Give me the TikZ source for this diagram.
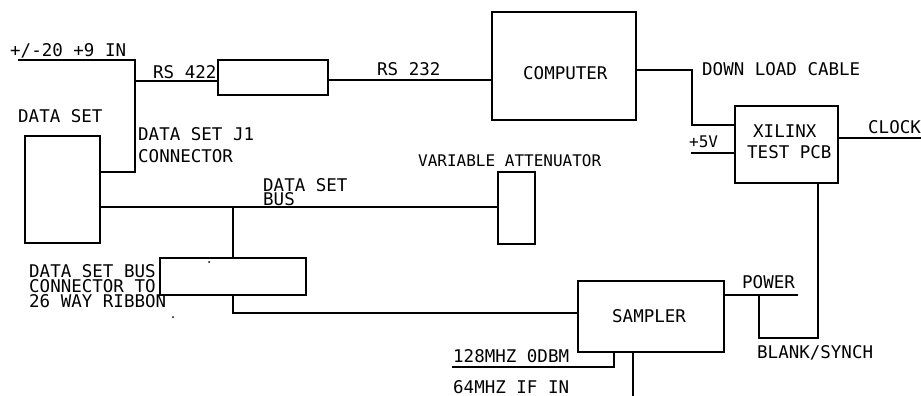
\documentclass[tikz,border=0pt]{standalone}
\usepackage{fontspec}
\newfontfamily\cadfont{DejaVu Sans Mono}
\begin{document}
\begin{tikzpicture}[x=1pt,y=-1pt,
  wire/.style={line width=1.7pt,line cap=rect},
  thinwire/.style={line width=1.3pt},
  box/.style={draw,line width=1.7pt,inner sep=0pt,outer sep=0pt},
  lbl/.style={anchor=base west,inner sep=0pt,text height=12.5pt,text depth=0pt,font=\cadfont\fontsize{17.5}{14}\selectfont},
  smlbl/.style={anchor=base west,inner sep=0pt,text height=11.5pt,text depth=0pt,font=\cadfont\fontsize{16}{14}\selectfont}]
\useasboundingbox (0,0) rectangle (921,396);
% boxes
\node[box,minimum width=110pt,minimum height=35pt] (conv) at (273,77.5) {};
\node[box,minimum width=144pt,minimum height=108pt] (comp) at (564,66) {};
\node[box,minimum width=103pt,minimum height=77pt] (xil) at (786.5,144.5) {};
\node[box,minimum width=75pt,minimum height=107pt] (ds) at (62.5,189.5) {};
\node[box,minimum width=37pt,minimum height=72pt] (att) at (516.5,208) {};
\node[box,minimum width=146pt,minimum height=37pt] (bc) at (233,276.5) {};
\node[box,minimum width=146pt,minimum height=71pt] (smp) at (651,316.5) {};
% coordinates
\coordinate (pin) at (19,60);
\coordinate (pc) at (135,60);
\coordinate (j1) at (135,172);
\coordinate (rs) at (135,81);
\coordinate (dlc) at (692,70);
\coordinate (dld) at (692,125);
\coordinate (fv) at (692,153);
\coordinate (clk) at (921,138);
\coordinate (tap) at (233,207);
\coordinate (rb) at (233,313);
\coordinate (pw) at (797,295);
\coordinate (pj) at (759,295);
\coordinate (bl) at (759,338);
\coordinate (br) at (818,338);
\coordinate (mhz) at (453,367);
\coordinate (mhzc) at (614,367);
\coordinate (ift) at (633,352);
\coordinate (ifb) at (633,396);
% connectors
\draw[wire] (pin) -- (pc) -- (j1) -- (j1 -| ds.east);
\draw[wire] (rs) -- (rs -| conv.west);
\draw[wire] (conv.east |- 0,80) -- (comp.west |- 0,80);
\draw[wire] (comp.east |- dlc) -- (dlc) -- (dld) -- (dld -| xil.west);
\draw[wire] (fv) -- (fv -| xil.west);
\draw[wire] (xil.east |- clk) -- (clk);
\draw[wire] (ds.east |- tap) -- (att.west |- tap);
\draw[wire] (tap) -- (bc.north);
\draw[thinwire] (bc.south) -- (rb) -- (rb -| smp.west);
\draw[wire] (smp.east |- pw) -- (pw);
\draw[wire] (pj) -- (bl) -- (br) -- (br |- xil.south);
\draw[wire] (mhz) -- (mhzc) -- (mhzc |- smp.south);
\draw[wire] (ift) -- (ifb);
% dots
\fill (209,262) circle (1pt);
\fill (173,317) circle (1pt);
% labels
\node[lbl] (t1) at (10,57) {+/-20 +9 IN};
\node[lbl] (t2) at (153,78) {RS 422};
\node[lbl] (t3) at (377,76) {RS 232};
\node[lbl] (t4) at (523,79) {COMPUTER};
\node[lbl] (t5) at (702,75) {DOWN LOAD CABLE};
\node[lbl] (t6) at (753,137) {XILINX};
\node[lbl] (t7) at (747,158) {TEST PCB};
\node[smlbl] (t8) at (689,147) {+5V};
\node[lbl] (t9) at (868,133) {CLOCK};
\node[lbl] (t10) at (18,122) {DATA SET};
\node[lbl] (t11) at (138,140) {DATA SET J1};
\node[lbl] (t12) at (138,162) {CONNECTOR};
\node[smlbl] (t13) at (418,166) {VARIABLE ATTENUATOR};
\node[lbl] (t14) at (263,191) {DATA SET};
\node[lbl] (t15) at (263,205) {BUS};
\node[lbl] (t16) at (29,277) {DATA SET BUS};
\node[lbl] (t17) at (29,292) {CONNECTOR TO};
\node[lbl] (t18) at (29,307) {26 WAY RIBBON};
\node[lbl] (t19) at (612,322) {SAMPLER};
\node[lbl] (t20) at (742,288) {POWER};
\node[lbl] (t21) at (757,358) {BLANK/SYNCH};
\node[lbl] (t22) at (453,362) {128MHZ 0DBM};
\node[lbl] (t23) at (453,393) {64MHZ IF IN};
\end{tikzpicture}
\end{document}
